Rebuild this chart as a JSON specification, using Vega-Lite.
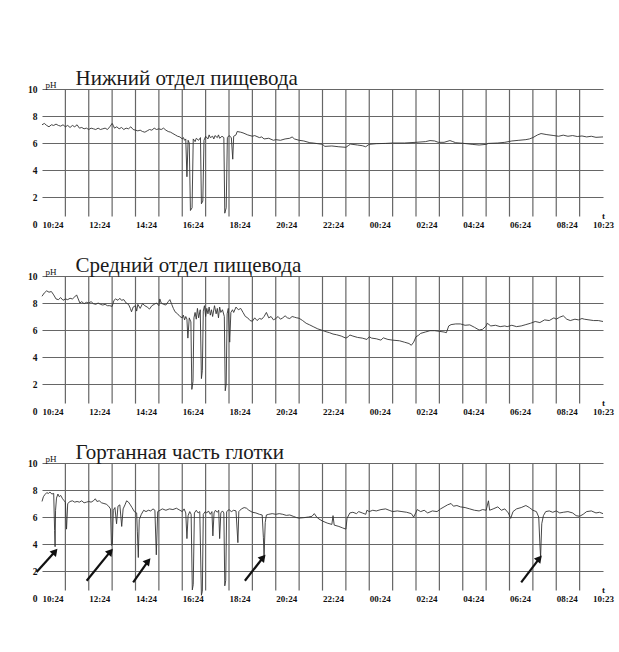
{
"$schema": "https://vega.github.io/schema/vega-lite/v6.json",
"background": "white",
"padding": {"left": 27, "top": 68, "right": 5, "bottom": 5},
"spacing": 26,
"config": {
  "view": {"stroke": null},
  "font": "Liberation Serif",
  "title": {"font": "Liberation Serif", "fontSize": 21, "fontWeight": "normal", "color": "#1a1a1a", "anchor": "start", "dx": 48, "offset": -9},
  "axis": {"labelFont": "Liberation Serif", "labelFontWeight": "bold", "labelFontSize": 9, "labelColor": "#111", "domain": false, "ticks": false, "titleFont": "Liberation Serif", "titleColor": "#111"}
},
"datasets": {
  "hours": [{"t":1},{"t":2},{"t":3},{"t":4},{"t":5},{"t":6},{"t":7},{"t":8},{"t":9},{"t":10},{"t":11},{"t":12},{"t":13},{"t":14},{"t":15},{"t":16},{"t":17},{"t":18},{"t":19},{"t":20},{"t":21},{"t":22},{"t":23}],
  "p1": [{"t":0,"ph":7.35},{"t":0.1,"ph":7.45},{"t":0.2,"ph":7.3},{"t":0.3,"ph":7.2},{"t":0.4,"ph":7.35},{"t":0.5,"ph":7.3},{"t":0.6,"ph":7.4},{"t":0.7,"ph":7.3},{"t":0.8,"ph":7.25},{"t":0.9,"ph":7.35},{"t":1.0,"ph":7.2},{"t":1.1,"ph":7.3},{"t":1.2,"ph":7.15},{"t":1.3,"ph":7.3},{"t":1.4,"ph":7.2},{"t":1.5,"ph":7.35},{"t":1.6,"ph":7.1},{"t":1.7,"ph":7.15},{"t":1.8,"ph":7.05},{"t":1.9,"ph":7.1},{"t":2.0,"ph":7.0},{"t":2.1,"ph":7.1},{"t":2.2,"ph":7.05},{"t":2.3,"ph":7.0},{"t":2.4,"ph":7.1},{"t":2.5,"ph":7.0},{"t":2.6,"ph":7.05},{"t":2.7,"ph":7.1},{"t":2.8,"ph":7.0},{"t":2.9,"ph":7.2},{"t":3.0,"ph":7.45},{"t":3.05,"ph":7.3},{"t":3.1,"ph":7.1},{"t":3.2,"ph":7.2},{"t":3.3,"ph":7.05},{"t":3.4,"ph":7.15},{"t":3.5,"ph":7.0},{"t":3.6,"ph":7.1},{"t":3.7,"ph":7.05},{"t":3.8,"ph":7.2},{"t":3.9,"ph":7.0},{"t":4.0,"ph":6.95},{"t":4.1,"ph":6.9},{"t":4.2,"ph":6.95},{"t":4.3,"ph":6.85},{"t":4.4,"ph":6.8},{"t":4.5,"ph":6.9},{"t":4.6,"ph":7.0},{"t":4.7,"ph":6.95},{"t":4.8,"ph":7.1},{"t":4.9,"ph":7.0},{"t":5.0,"ph":7.05},{"t":5.1,"ph":7.0},{"t":5.2,"ph":7.1},{"t":5.3,"ph":6.95},{"t":5.4,"ph":6.85},{"t":5.5,"ph":6.8},{"t":5.6,"ph":6.7},{"t":5.7,"ph":6.6},{"t":5.8,"ph":6.5},{"t":5.9,"ph":6.45},{"t":6.0,"ph":6.3},{"t":6.05,"ph":6.4},{"t":6.1,"ph":6.2},{"t":6.15,"ph":6.3},{"t":6.2,"ph":3.5},{"t":6.25,"ph":6.2},{"t":6.3,"ph":6.0},{"t":6.35,"ph":1.0},{"t":6.42,"ph":1.2},{"t":6.47,"ph":6.3},{"t":6.55,"ph":6.1},{"t":6.6,"ph":6.35},{"t":6.7,"ph":6.2},{"t":6.78,"ph":6.4},{"t":6.82,"ph":1.5},{"t":6.88,"ph":1.7},{"t":6.93,"ph":6.2},{"t":7.0,"ph":6.5},{"t":7.1,"ph":6.3},{"t":7.15,"ph":6.6},{"t":7.2,"ph":6.4},{"t":7.3,"ph":6.5},{"t":7.35,"ph":6.3},{"t":7.4,"ph":6.55},{"t":7.5,"ph":6.4},{"t":7.55,"ph":6.6},{"t":7.6,"ph":6.35},{"t":7.7,"ph":6.5},{"t":7.78,"ph":6.4},{"t":7.82,"ph":0.8},{"t":7.88,"ph":1.2},{"t":7.93,"ph":6.4},{"t":8.0,"ph":6.55},{"t":8.1,"ph":6.4},{"t":8.16,"ph":4.8},{"t":8.2,"ph":6.5},{"t":8.3,"ph":6.6},{"t":8.35,"ph":6.85},{"t":8.5,"ph":6.8},{"t":8.6,"ph":6.75},{"t":8.8,"ph":6.6},{"t":9.0,"ph":6.5},{"t":9.1,"ph":6.55},{"t":9.3,"ph":6.4},{"t":9.4,"ph":6.45},{"t":9.5,"ph":6.3},{"t":9.7,"ph":6.35},{"t":9.9,"ph":6.2},{"t":10.0,"ph":6.25},{"t":10.2,"ph":6.2},{"t":10.4,"ph":6.3},{"t":10.6,"ph":6.35},{"t":10.7,"ph":6.45},{"t":10.8,"ph":6.3},{"t":11.0,"ph":6.2},{"t":11.2,"ph":6.15},{"t":11.46,"ph":6.02},{"t":11.6,"ph":6.0},{"t":11.8,"ph":5.95},{"t":12.0,"ph":5.9},{"t":12.1,"ph":5.75},{"t":12.4,"ph":5.78},{"t":12.7,"ph":5.72},{"t":13.0,"ph":5.68},{"t":13.1,"ph":5.8},{"t":13.2,"ph":5.92},{"t":13.5,"ph":5.85},{"t":13.7,"ph":5.8},{"t":13.85,"ph":5.72},{"t":13.95,"ph":5.85},{"t":14.0,"ph":5.9},{"t":14.3,"ph":5.95},{"t":14.7,"ph":5.97},{"t":15.0,"ph":6.0},{"t":15.5,"ph":6.0},{"t":16.0,"ph":6.05},{"t":16.4,"ph":6.1},{"t":16.6,"ph":6.18},{"t":16.8,"ph":6.15},{"t":16.95,"ph":6.05},{"t":17.2,"ph":6.05},{"t":17.45,"ph":6.18},{"t":17.55,"ph":6.12},{"t":17.7,"ph":6.02},{"t":18.0,"ph":5.98},{"t":18.4,"ph":5.9},{"t":18.7,"ph":5.85},{"t":19.0,"ph":5.9},{"t":19.1,"ph":5.97},{"t":19.5,"ph":6.0},{"t":19.8,"ph":6.05},{"t":20.1,"ph":6.15},{"t":20.4,"ph":6.2},{"t":20.7,"ph":6.25},{"t":20.85,"ph":6.3},{"t":21.0,"ph":6.4},{"t":21.2,"ph":6.6},{"t":21.35,"ph":6.7},{"t":21.6,"ph":6.62},{"t":21.9,"ph":6.55},{"t":22.1,"ph":6.5},{"t":22.3,"ph":6.58},{"t":22.5,"ph":6.5},{"t":22.7,"ph":6.55},{"t":22.9,"ph":6.48},{"t":23.1,"ph":6.52},{"t":23.3,"ph":6.45},{"t":23.5,"ph":6.5},{"t":23.7,"ph":6.42},{"t":24.0,"ph":6.45}],
  "p2": [{"t":0,"ph":8.5},{"t":0.1,"ph":8.75},{"t":0.2,"ph":8.9},{"t":0.3,"ph":8.8},{"t":0.4,"ph":8.85},{"t":0.5,"ph":8.6},{"t":0.6,"ph":8.3},{"t":0.7,"ph":8.25},{"t":0.8,"ph":8.4},{"t":0.9,"ph":8.2},{"t":1.0,"ph":8.3},{"t":1.1,"ph":8.25},{"t":1.2,"ph":8.35},{"t":1.3,"ph":8.3},{"t":1.4,"ph":8.45},{"t":1.48,"ph":8.6},{"t":1.55,"ph":8.3},{"t":1.62,"ph":8.0},{"t":1.7,"ph":8.1},{"t":1.8,"ph":7.95},{"t":1.9,"ph":8.05},{"t":2.0,"ph":8.0},{"t":2.1,"ph":8.1},{"t":2.2,"ph":7.95},{"t":2.3,"ph":7.9},{"t":2.4,"ph":8.0},{"t":2.5,"ph":7.9},{"t":2.6,"ph":7.85},{"t":2.7,"ph":7.9},{"t":2.8,"ph":7.8},{"t":2.9,"ph":7.8},{"t":3.0,"ph":7.75},{"t":3.08,"ph":8.2},{"t":3.15,"ph":8.3},{"t":3.25,"ph":8.2},{"t":3.33,"ph":8.35},{"t":3.4,"ph":8.2},{"t":3.5,"ph":8.25},{"t":3.6,"ph":8.0},{"t":3.7,"ph":7.9},{"t":3.78,"ph":7.6},{"t":3.83,"ph":7.35},{"t":3.9,"ph":7.7},{"t":4.0,"ph":7.8},{"t":4.05,"ph":7.4},{"t":4.1,"ph":7.9},{"t":4.2,"ph":7.6},{"t":4.3,"ph":7.95},{"t":4.4,"ph":7.8},{"t":4.5,"ph":7.7},{"t":4.6,"ph":7.55},{"t":4.7,"ph":7.8},{"t":4.8,"ph":7.9},{"t":4.9,"ph":8.0},{"t":5.0,"ph":7.8},{"t":5.04,"ph":8.3},{"t":5.1,"ph":8.0},{"t":5.2,"ph":7.9},{"t":5.3,"ph":7.85},{"t":5.4,"ph":8.1},{"t":5.47,"ph":8.25},{"t":5.55,"ph":7.9},{"t":5.62,"ph":7.6},{"t":5.69,"ph":7.35},{"t":5.8,"ph":7.2},{"t":5.9,"ph":7.0},{"t":6.0,"ph":6.9},{"t":6.05,"ph":7.1},{"t":6.1,"ph":6.75},{"t":6.15,"ph":7.0},{"t":6.2,"ph":6.8},{"t":6.24,"ph":5.4},{"t":6.3,"ph":6.9},{"t":6.37,"ph":6.6},{"t":6.41,"ph":1.6},{"t":6.46,"ph":2.2},{"t":6.5,"ph":6.9},{"t":6.55,"ph":7.3},{"t":6.6,"ph":6.8},{"t":6.65,"ph":7.6},{"t":6.7,"ph":6.9},{"t":6.77,"ph":7.5},{"t":6.82,"ph":2.4},{"t":6.86,"ph":3.0},{"t":6.9,"ph":7.4},{"t":6.95,"ph":7.8},{"t":7.0,"ph":7.0},{"t":7.05,"ph":7.6},{"t":7.1,"ph":7.2},{"t":7.15,"ph":7.7},{"t":7.2,"ph":7.1},{"t":7.25,"ph":7.5},{"t":7.3,"ph":7.0},{"t":7.38,"ph":7.8},{"t":7.45,"ph":7.2},{"t":7.5,"ph":7.6},{"t":7.55,"ph":6.9},{"t":7.6,"ph":7.7},{"t":7.65,"ph":7.3},{"t":7.72,"ph":7.5},{"t":7.8,"ph":7.0},{"t":7.84,"ph":1.5},{"t":7.88,"ph":2.0},{"t":7.92,"ph":7.2},{"t":7.97,"ph":7.6},{"t":8.03,"ph":5.1},{"t":8.08,"ph":7.3},{"t":8.15,"ph":7.5},{"t":8.2,"ph":7.3},{"t":8.3,"ph":7.7},{"t":8.4,"ph":7.5},{"t":8.5,"ph":7.6},{"t":8.6,"ph":7.3},{"t":8.7,"ph":7.0},{"t":8.8,"ph":6.9},{"t":8.9,"ph":6.7},{"t":9.0,"ph":6.65},{"t":9.1,"ph":6.9},{"t":9.2,"ph":6.7},{"t":9.3,"ph":6.85},{"t":9.4,"ph":6.8},{"t":9.5,"ph":7.0},{"t":9.6,"ph":7.3},{"t":9.7,"ph":6.9},{"t":9.8,"ph":7.0},{"t":9.9,"ph":6.75},{"t":10.0,"ph":6.85},{"t":10.1,"ph":7.0},{"t":10.2,"ph":6.8},{"t":10.3,"ph":6.9},{"t":10.4,"ph":7.05},{"t":10.5,"ph":6.9},{"t":10.6,"ph":6.85},{"t":10.7,"ph":7.0},{"t":10.8,"ph":6.95},{"t":10.9,"ph":6.9},{"t":11.0,"ph":6.87},{"t":11.15,"ph":6.7},{"t":11.3,"ph":6.5},{"t":11.45,"ph":6.38},{"t":11.6,"ph":6.25},{"t":11.8,"ph":6.08},{"t":11.95,"ph":6.0},{"t":12.1,"ph":5.9},{"t":12.3,"ph":5.8},{"t":12.45,"ph":5.7},{"t":12.6,"ph":5.65},{"t":12.8,"ph":5.55},{"t":13.0,"ph":5.4},{"t":13.1,"ph":5.5},{"t":13.17,"ph":5.63},{"t":13.3,"ph":5.55},{"t":13.5,"ph":5.45},{"t":13.7,"ph":5.4},{"t":13.9,"ph":5.3},{"t":14.0,"ph":5.5},{"t":14.1,"ph":5.4},{"t":14.3,"ph":5.35},{"t":14.5,"ph":5.25},{"t":14.6,"ph":5.42},{"t":14.8,"ph":5.3},{"t":15.0,"ph":5.25},{"t":15.3,"ph":5.2},{"t":15.5,"ph":5.1},{"t":15.7,"ph":5.0},{"t":15.8,"ph":4.87},{"t":15.9,"ph":5.1},{"t":16.0,"ph":5.5},{"t":16.1,"ph":5.6},{"t":16.2,"ph":5.75},{"t":16.4,"ph":5.85},{"t":16.6,"ph":5.95},{"t":16.8,"ph":5.95},{"t":17.0,"ph":5.9},{"t":17.2,"ph":5.85},{"t":17.3,"ph":5.8},{"t":17.4,"ph":6.3},{"t":17.5,"ph":6.4},{"t":17.7,"ph":6.45},{"t":17.9,"ph":6.45},{"t":18.1,"ph":6.35},{"t":18.3,"ph":6.38},{"t":18.5,"ph":6.2},{"t":18.7,"ph":6.0},{"t":18.85,"ph":6.05},{"t":19.0,"ph":6.3},{"t":19.05,"ph":6.5},{"t":19.2,"ph":6.3},{"t":19.4,"ph":6.35},{"t":19.6,"ph":6.25},{"t":19.8,"ph":6.3},{"t":19.9,"ph":6.25},{"t":20.1,"ph":6.35},{"t":20.3,"ph":6.25},{"t":20.5,"ph":6.3},{"t":20.7,"ph":6.4},{"t":20.9,"ph":6.5},{"t":21.1,"ph":6.63},{"t":21.3,"ph":6.55},{"t":21.5,"ph":6.75},{"t":21.7,"ph":6.7},{"t":21.9,"ph":6.9},{"t":22.0,"ph":6.8},{"t":22.15,"ph":6.95},{"t":22.3,"ph":7.05},{"t":22.45,"ph":6.8},{"t":22.6,"ph":6.7},{"t":22.8,"ph":6.8},{"t":22.95,"ph":6.75},{"t":23.1,"ph":6.85},{"t":23.2,"ph":6.8},{"t":23.4,"ph":6.75},{"t":23.6,"ph":6.7},{"t":23.8,"ph":6.7},{"t":24.0,"ph":6.63}],
  "p3": [{"t":0,"ph":7.15},{"t":0.06,"ph":7.5},{"t":0.12,"ph":7.65},{"t":0.2,"ph":7.8},{"t":0.28,"ph":7.75},{"t":0.34,"ph":7.85},{"t":0.42,"ph":7.7},{"t":0.5,"ph":7.75},{"t":0.54,"ph":5.0},{"t":0.56,"ph":3.8},{"t":0.58,"ph":6.5},{"t":0.62,"ph":7.4},{"t":0.68,"ph":7.7},{"t":0.74,"ph":7.5},{"t":0.8,"ph":7.6},{"t":0.88,"ph":7.35},{"t":0.95,"ph":7.2},{"t":1.0,"ph":7.1},{"t":1.05,"ph":5.1},{"t":1.1,"ph":7.0},{"t":1.2,"ph":7.15},{"t":1.3,"ph":7.2},{"t":1.4,"ph":7.1},{"t":1.5,"ph":7.15},{"t":1.6,"ph":7.1},{"t":1.7,"ph":7.2},{"t":1.8,"ph":7.05},{"t":1.9,"ph":7.1},{"t":2.0,"ph":7.15},{"t":2.1,"ph":7.1},{"t":2.2,"ph":7.2},{"t":2.28,"ph":7.35},{"t":2.35,"ph":7.15},{"t":2.45,"ph":7.2},{"t":2.55,"ph":7.05},{"t":2.65,"ph":7.0},{"t":2.75,"ph":6.95},{"t":2.85,"ph":6.8},{"t":2.93,"ph":6.6},{"t":2.97,"ph":3.9},{"t":3.01,"ph":3.95},{"t":3.05,"ph":6.5},{"t":3.12,"ph":6.7},{"t":3.19,"ph":5.5},{"t":3.25,"ph":6.8},{"t":3.33,"ph":6.9},{"t":3.41,"ph":5.3},{"t":3.47,"ph":6.6},{"t":3.55,"ph":6.9},{"t":3.62,"ph":7.2},{"t":3.7,"ph":7.1},{"t":3.78,"ph":6.9},{"t":3.85,"ph":6.7},{"t":3.95,"ph":6.4},{"t":4.05,"ph":6.3},{"t":4.08,"ph":4.9},{"t":4.12,"ph":3.0},{"t":4.16,"ph":5.8},{"t":4.25,"ph":6.2},{"t":4.35,"ph":6.5},{"t":4.45,"ph":6.4},{"t":4.55,"ph":6.5},{"t":4.65,"ph":6.45},{"t":4.75,"ph":6.6},{"t":4.83,"ph":6.5},{"t":4.89,"ph":3.2},{"t":4.95,"ph":6.4},{"t":5.05,"ph":6.5},{"t":5.15,"ph":6.6},{"t":5.3,"ph":6.5},{"t":5.45,"ph":6.6},{"t":5.6,"ph":6.55},{"t":5.75,"ph":6.65},{"t":5.9,"ph":6.5},{"t":6.0,"ph":6.4},{"t":6.08,"ph":6.6},{"t":6.15,"ph":6.3},{"t":6.2,"ph":4.4},{"t":6.25,"ph":6.1},{"t":6.32,"ph":6.4},{"t":6.38,"ph":6.2},{"t":6.43,"ph":0.6},{"t":6.47,"ph":1.0},{"t":6.52,"ph":6.3},{"t":6.6,"ph":6.5},{"t":6.68,"ph":6.3},{"t":6.75,"ph":6.4},{"t":6.82,"ph":0.2},{"t":6.86,"ph":0.5},{"t":6.9,"ph":6.2},{"t":6.98,"ph":6.4},{"t":7.05,"ph":6.3},{"t":7.12,"ph":6.45},{"t":7.2,"ph":6.2},{"t":7.27,"ph":6.4},{"t":7.31,"ph":4.6},{"t":7.36,"ph":6.3},{"t":7.42,"ph":6.5},{"t":7.5,"ph":6.35},{"t":7.56,"ph":6.5},{"t":7.6,"ph":4.4},{"t":7.65,"ph":6.3},{"t":7.72,"ph":6.45},{"t":7.78,"ph":6.3},{"t":7.82,"ph":0.9},{"t":7.86,"ph":1.3},{"t":7.9,"ph":6.4},{"t":8.0,"ph":6.55},{"t":8.1,"ph":6.4},{"t":8.2,"ph":6.5},{"t":8.3,"ph":6.45},{"t":8.38,"ph":4.1},{"t":8.42,"ph":6.4},{"t":8.53,"ph":6.6},{"t":8.65,"ph":6.7},{"t":8.75,"ph":6.65},{"t":8.85,"ph":6.5},{"t":9.0,"ph":6.35},{"t":9.15,"ph":6.3},{"t":9.3,"ph":6.2},{"t":9.42,"ph":6.15},{"t":9.47,"ph":4.5},{"t":9.5,"ph":3.1},{"t":9.55,"ph":5.6},{"t":9.6,"ph":6.15},{"t":9.7,"ph":6.2},{"t":9.85,"ph":6.25},{"t":10.0,"ph":6.2},{"t":10.15,"ph":6.25},{"t":10.3,"ph":6.2},{"t":10.45,"ph":6.12},{"t":10.6,"ph":6.15},{"t":10.75,"ph":6.05},{"t":10.9,"ph":5.95},{"t":11.0,"ph":5.92},{"t":11.2,"ph":5.95},{"t":11.4,"ph":6.0},{"t":11.55,"ph":6.05},{"t":11.65,"ph":6.25},{"t":11.75,"ph":6.0},{"t":11.85,"ph":5.85},{"t":12.0,"ph":5.7},{"t":12.2,"ph":5.55},{"t":12.4,"ph":5.45},{"t":12.45,"ph":6.1},{"t":12.5,"ph":5.4},{"t":12.7,"ph":5.3},{"t":12.85,"ph":5.2},{"t":13.0,"ph":5.1},{"t":13.05,"ph":5.9},{"t":13.17,"ph":6.3},{"t":13.3,"ph":6.35},{"t":13.45,"ph":6.25},{"t":13.55,"ph":6.4},{"t":13.7,"ph":6.3},{"t":13.85,"ph":6.2},{"t":13.9,"ph":6.5},{"t":14.0,"ph":6.4},{"t":14.15,"ph":6.5},{"t":14.3,"ph":6.45},{"t":14.5,"ph":6.55},{"t":14.7,"ph":6.6},{"t":14.85,"ph":6.5},{"t":15.0,"ph":6.4},{"t":15.2,"ph":6.45},{"t":15.4,"ph":6.4},{"t":15.6,"ph":6.35},{"t":15.8,"ph":6.25},{"t":15.9,"ph":6.0},{"t":16.0,"ph":6.35},{"t":16.05,"ph":6.55},{"t":16.2,"ph":6.4},{"t":16.35,"ph":6.5},{"t":16.5,"ph":6.3},{"t":16.7,"ph":6.45},{"t":16.9,"ph":6.4},{"t":17.05,"ph":6.6},{"t":17.2,"ph":6.75},{"t":17.35,"ph":6.9},{"t":17.5,"ph":7.0},{"t":17.6,"ph":6.8},{"t":17.75,"ph":6.85},{"t":17.9,"ph":6.75},{"t":18.1,"ph":6.7},{"t":18.3,"ph":6.6},{"t":18.5,"ph":6.5},{"t":18.7,"ph":6.45},{"t":18.85,"ph":6.55},{"t":19.0,"ph":6.5},{"t":19.1,"ph":7.2},{"t":19.15,"ph":6.5},{"t":19.3,"ph":6.6},{"t":19.5,"ph":6.75},{"t":19.65,"ph":6.5},{"t":19.8,"ph":6.6},{"t":19.95,"ph":6.3},{"t":20.05,"ph":5.9},{"t":20.15,"ph":6.4},{"t":20.3,"ph":6.6},{"t":20.5,"ph":6.7},{"t":20.7,"ph":6.85},{"t":20.85,"ph":6.7},{"t":21.0,"ph":6.5},{"t":21.15,"ph":6.4},{"t":21.25,"ph":6.0},{"t":21.3,"ph":4.0},{"t":21.33,"ph":3.0},{"t":21.38,"ph":5.5},{"t":21.45,"ph":6.1},{"t":21.55,"ph":6.4},{"t":21.7,"ph":6.45},{"t":21.85,"ph":6.35},{"t":22.0,"ph":6.45},{"t":22.15,"ph":6.3},{"t":22.3,"ph":6.35},{"t":22.5,"ph":6.4},{"t":22.7,"ph":6.3},{"t":22.85,"ph":6.1},{"t":23.0,"ph":6.05},{"t":23.15,"ph":6.2},{"t":23.3,"ph":6.4},{"t":23.5,"ph":6.45},{"t":23.7,"ph":6.3},{"t":23.85,"ph":6.35},{"t":24.0,"ph":6.25}],
  "arrows": [{"t":-0.23,"ph":1.92,"t2":0.56,"ph2":3.45},{"t":1.91,"ph":1.28,"t2":2.93,"ph2":3.45},{"t":3.9,"ph":1.16,"t2":4.54,"ph2":2.73},{"t":8.68,"ph":1.28,"t2":9.46,"ph2":3.0},{"t":20.5,"ph":1.16,"t2":21.28,"ph2":2.94}]
},
"vconcat": [
  {
    "width": 561, "height": 135,
    "title": {"text": "Нижний отдел пищевода"},
    "encoding": {
      "x": {"field": "t", "type": "quantitative", "scale": {"domain": [0, 24]},
        "axis": {"values": [0,2,4,6,8,10,12,14,16,18,20,22,24], "labelExpr": "datum.value == 24 ? '10:23' : ((((10 + datum.value) % 24) < 10) ? '0' : '') + ((10 + datum.value) % 24) + ':24'", "labelAlign": {"condition": {"test": "datum.value == 24", "value": "center"}, "value": "left"}, "labelBaseline": "middle", "labelPadding": 0, "labelFlush": false, "labelOverlap": false, "labelBound": false, "grid": false, "title": "t", "titleX": 561, "titleY": -6, "titleAlign": "center", "titleBaseline": "alphabetic", "titleFontSize": 9, "titleFontWeight": "bold", "titlePadding": 0}}
    },
    "layer": [
      {"data": {"name": "hours"}, "mark": {"type": "rule", "color": "#666", "strokeWidth": 1.2},
       "encoding": {"y": {"datum": 10, "type": "quantitative", "scale": {"domain": [0, 10]}, "axis": {"values": [0,2,4,6,8,10], "labelOverlap": false, "grid": true, "gridColor": "#666", "gridWidth": 1.2, "gridOpacity": {"condition": {"test": "datum.value == 0", "value": 0}, "value": 1}, "labelPadding": 5, "labelFontSize": 9.5, "title": "pH", "titleAngle": 0, "titleX": 3, "titleY": -2, "titleAlign": "left", "titleBaseline": "alphabetic", "titleFontSize": 9, "titleFontWeight": "normal"}}, "y2": {"datum": 0.55}}},
      {"data": {"name": "p1"}, "mark": {"type": "line", "color": "#333", "strokeWidth": 0.9},
       "encoding": {"y": {"field": "ph", "type": "quantitative", "scale": {"domain": [0, 10]}, "axis": {"values": [0,2,4,6,8,10], "labelOverlap": false, "grid": true, "gridColor": "#666", "gridWidth": 1.2, "gridOpacity": {"condition": {"test": "datum.value == 0", "value": 0}, "value": 1}, "labelPadding": 5, "labelFontSize": 9.5, "title": "pH", "titleAngle": 0, "titleX": 3, "titleY": -2, "titleAlign": "left", "titleBaseline": "alphabetic", "titleFontSize": 9, "titleFontWeight": "normal"}}}}
    ]
  },
  {
    "width": 561, "height": 135,
    "title": {"text": "Средний отдел пищевода"},
    "encoding": {
      "x": {"field": "t", "type": "quantitative", "scale": {"domain": [0, 24]},
        "axis": {"values": [0,2,4,6,8,10,12,14,16,18,20,22,24], "labelExpr": "datum.value == 24 ? '10:23' : ((((10 + datum.value) % 24) < 10) ? '0' : '') + ((10 + datum.value) % 24) + ':24'", "labelAlign": {"condition": {"test": "datum.value == 24", "value": "center"}, "value": "left"}, "labelBaseline": "middle", "labelPadding": 0, "labelFlush": false, "labelOverlap": false, "labelBound": false, "grid": false, "title": "t", "titleX": 561, "titleY": -6, "titleAlign": "center", "titleBaseline": "alphabetic", "titleFontSize": 9, "titleFontWeight": "bold", "titlePadding": 0}}
    },
    "layer": [
      {"data": {"name": "hours"}, "mark": {"type": "rule", "color": "#666", "strokeWidth": 1.2},
       "encoding": {"y": {"datum": 10, "type": "quantitative", "scale": {"domain": [0, 10]}, "axis": {"values": [0,2,4,6,8,10], "labelOverlap": false, "grid": true, "gridColor": "#666", "gridWidth": 1.2, "gridOpacity": {"condition": {"test": "datum.value == 0", "value": 0}, "value": 1}, "labelPadding": 5, "labelFontSize": 9.5, "title": "pH", "titleAngle": 0, "titleX": 3, "titleY": -2, "titleAlign": "left", "titleBaseline": "alphabetic", "titleFontSize": 9, "titleFontWeight": "normal"}}, "y2": {"datum": 0.55}}},
      {"data": {"name": "p2"}, "mark": {"type": "line", "color": "#333", "strokeWidth": 0.9},
       "encoding": {"y": {"field": "ph", "type": "quantitative", "scale": {"domain": [0, 10]}, "axis": {"values": [0,2,4,6,8,10], "labelOverlap": false, "grid": true, "gridColor": "#666", "gridWidth": 1.2, "gridOpacity": {"condition": {"test": "datum.value == 0", "value": 0}, "value": 1}, "labelPadding": 5, "labelFontSize": 9.5, "title": "pH", "titleAngle": 0, "titleX": 3, "titleY": -2, "titleAlign": "left", "titleBaseline": "alphabetic", "titleFontSize": 9, "titleFontWeight": "normal"}}}}
    ]
  },
  {
    "width": 561, "height": 135,
    "title": {"text": "Гортанная часть глотки"},
    "encoding": {
      "x": {"field": "t", "type": "quantitative", "scale": {"domain": [0, 24]},
        "axis": {"values": [0,2,4,6,8,10,12,14,16,18,20,22,24], "labelExpr": "datum.value == 24 ? '10:23' : ((((10 + datum.value) % 24) < 10) ? '0' : '') + ((10 + datum.value) % 24) + ':24'", "labelAlign": {"condition": {"test": "datum.value == 24", "value": "center"}, "value": "left"}, "labelBaseline": "middle", "labelPadding": 0, "labelFlush": false, "labelOverlap": false, "labelBound": false, "grid": false, "title": "t", "titleX": 561, "titleY": -6, "titleAlign": "center", "titleBaseline": "alphabetic", "titleFontSize": 9, "titleFontWeight": "bold", "titlePadding": 0}}
    },
    "layer": [
      {"data": {"name": "hours"}, "mark": {"type": "rule", "color": "#666", "strokeWidth": 1.2},
       "encoding": {"y": {"datum": 10, "type": "quantitative", "scale": {"domain": [0, 10]}, "axis": {"values": [0,2,4,6,8,10], "labelOverlap": false, "grid": true, "gridColor": "#666", "gridWidth": 1.2, "gridOpacity": {"condition": {"test": "datum.value == 0", "value": 0}, "value": 1}, "labelPadding": 5, "labelFontSize": 9.5, "title": "pH", "titleAngle": 0, "titleX": 3, "titleY": -2, "titleAlign": "left", "titleBaseline": "alphabetic", "titleFontSize": 9, "titleFontWeight": "normal"}}, "y2": {"datum": 0.55}}},
      {"data": {"values": [{}]}, "mark": {"type": "rule", "color": "#333", "strokeWidth": 2.8},
       "encoding": {"x": {"datum": 0}, "x2": {"datum": 24}, "y": {"datum": 4, "type": "quantitative", "axis": {"values": [0,2,4,6,8,10], "labelOverlap": false, "grid": true, "gridColor": "#666", "gridWidth": 1.2, "gridOpacity": {"condition": {"test": "datum.value == 0", "value": 0}, "value": 1}, "labelPadding": 5, "labelFontSize": 9.5, "title": "pH", "titleAngle": 0, "titleX": 3, "titleY": -2, "titleAlign": "left", "titleBaseline": "alphabetic", "titleFontSize": 9, "titleFontWeight": "normal"}}}},
      {"data": {"name": "p3"}, "mark": {"type": "line", "color": "#333", "strokeWidth": 0.9},
       "encoding": {"y": {"field": "ph", "type": "quantitative", "scale": {"domain": [0, 10]}, "axis": {"values": [0,2,4,6,8,10], "labelOverlap": false, "grid": true, "gridColor": "#666", "gridWidth": 1.2, "gridOpacity": {"condition": {"test": "datum.value == 0", "value": 0}, "value": 1}, "labelPadding": 5, "labelFontSize": 9.5, "title": "pH", "titleAngle": 0, "titleX": 3, "titleY": -2, "titleAlign": "left", "titleBaseline": "alphabetic", "titleFontSize": 9, "titleFontWeight": "normal"}}}},
      {"data": {"name": "arrows"}, "mark": {"type": "rule", "color": "#111", "strokeWidth": 2.2},
       "encoding": {"y": {"field": "ph", "type": "quantitative", "axis": {"values": [0,2,4,6,8,10], "labelOverlap": false, "grid": true, "gridColor": "#666", "gridWidth": 1.2, "gridOpacity": {"condition": {"test": "datum.value == 0", "value": 0}, "value": 1}, "labelPadding": 5, "labelFontSize": 9.5, "title": "pH", "titleAngle": 0, "titleX": 3, "titleY": -2, "titleAlign": "left", "titleBaseline": "alphabetic", "titleFontSize": 9, "titleFontWeight": "normal"}}, "x2": {"field": "t2"}, "y2": {"field": "ph2"}}},
      {"data": {"name": "arrows"}, "mark": {"type": "point", "shape": "triangle-up", "filled": true, "color": "#111", "opacity": 1, "size": 70, "angle": 40},
       "encoding": {"x": {"field": "t2", "type": "quantitative", "axis": {"values": [0,2,4,6,8,10,12,14,16,18,20,22,24], "labelExpr": "datum.value == 24 ? '10:23' : ((((10 + datum.value) % 24) < 10) ? '0' : '') + ((10 + datum.value) % 24) + ':24'", "labelAlign": {"condition": {"test": "datum.value == 24", "value": "center"}, "value": "left"}, "labelBaseline": "middle", "labelPadding": 0, "labelFlush": false, "labelOverlap": false, "labelBound": false, "grid": false, "title": "t", "titleX": 561, "titleY": -6, "titleAlign": "center", "titleBaseline": "alphabetic", "titleFontSize": 9, "titleFontWeight": "bold", "titlePadding": 0}},
        "y": {"field": "ph2", "type": "quantitative", "axis": {"values": [0,2,4,6,8,10], "labelOverlap": false, "grid": true, "gridColor": "#666", "gridWidth": 1.2, "gridOpacity": {"condition": {"test": "datum.value == 0", "value": 0}, "value": 1}, "labelPadding": 5, "labelFontSize": 9.5, "title": "pH", "titleAngle": 0, "titleX": 3, "titleY": -2, "titleAlign": "left", "titleBaseline": "alphabetic", "titleFontSize": 9, "titleFontWeight": "normal"}}}}
    ]
  }
]
}
